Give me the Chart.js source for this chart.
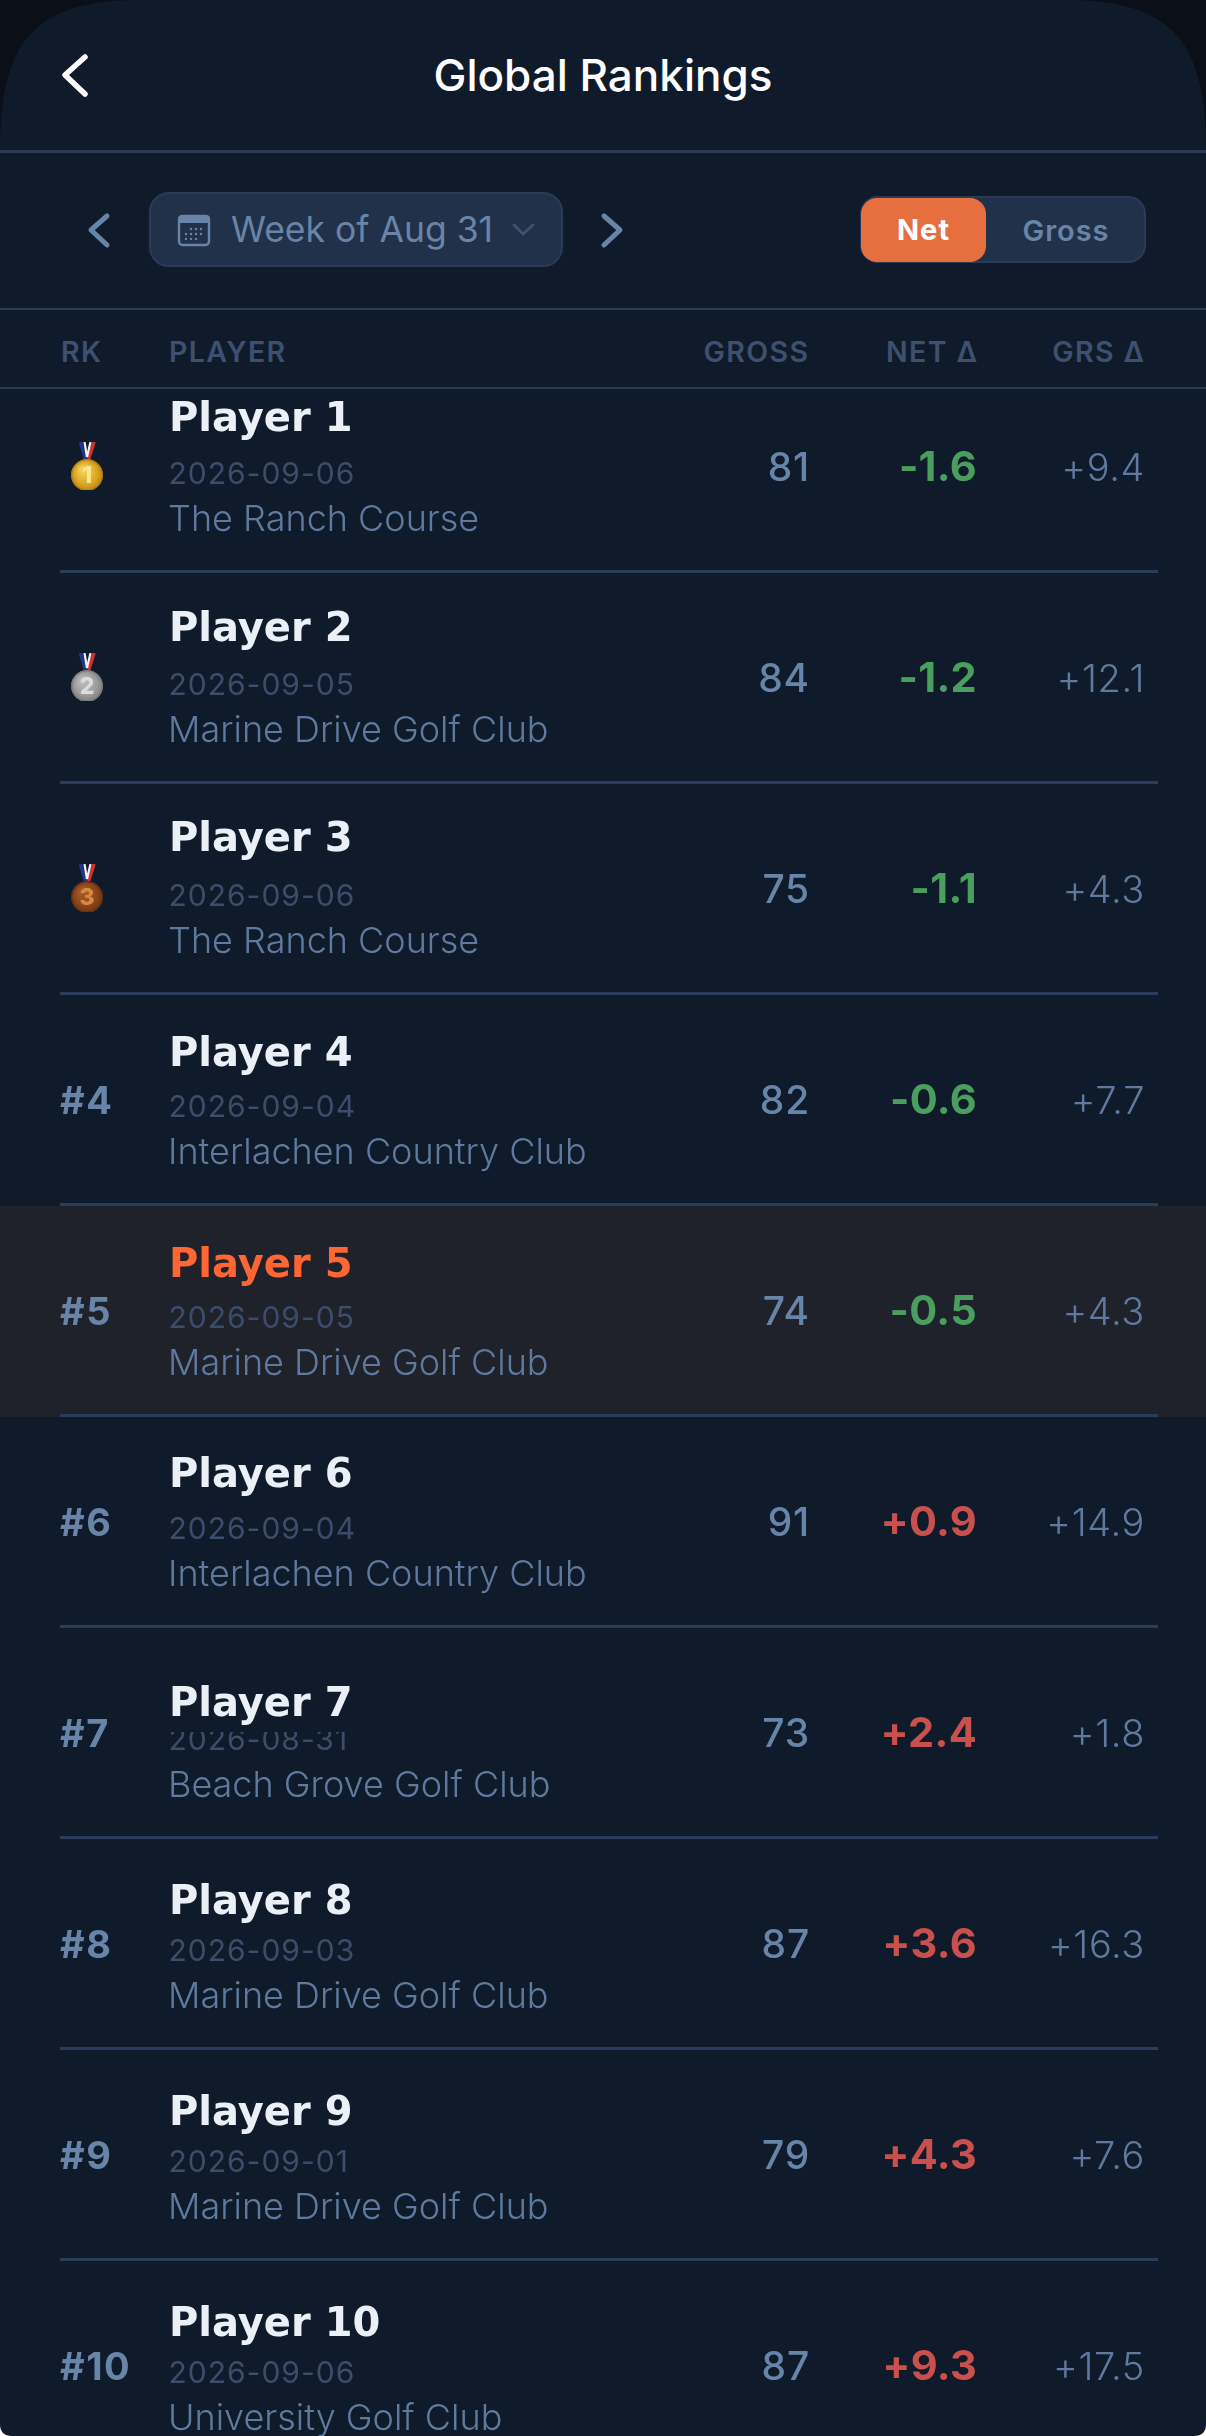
<!DOCTYPE html>
<html>
<head>
<meta charset="utf-8">
<title>Global Rankings</title>
<script src="https://cdn.jsdelivr.net/npm/chart.js@4"></script>
<style>
  html, body { margin: 0; padding: 0; }
  body { width: 1206px; height: 2436px; overflow: hidden; background: linear-gradient(#0a0f18 50%, #fff 50%); font-family: Inter, sans-serif; }
  #screen { position: absolute; left: 0; top: 0; width: 1206px; height: 2436px; background: #0f1b2a;
    clip-path: path('M0 150 C0 40 35 0 140 0 L1066 0 C1171 0 1206 40 1206 150 L1206 2424 Q1206 2436 1194 2436 L12 2436 Q0 2436 0 2424 Z'); }
  .abs { position: absolute; white-space: nowrap; }
  .rule { position: absolute; left: 0; width: 1206px; background: #2a3a57; }
  #title { left: 0; width: 1206px; text-align: center; top: 50px; font-size: 44px; line-height: 50px; font-weight: 500; color: #fff; }
  #week { left: 149px; top: 192px; width: 414px; height: 75px; box-sizing: border-box; border: 2px solid #2b3b57; border-radius: 20px; background: #22314a; }
  #weekText { left: 231px; top: 208px; font-size: 35.5px; line-height: 44px; color: #6884a8; }
  #toggle { left: 860px; top: 196px; width: 286px; height: 67px; box-sizing: border-box; border: 2px solid #2b3b57; border-radius: 18px; background: #22314a; }
  #net { left: 861px; top: 198px; width: 125px; height: 64px; border-radius: 16px; background: #e76f3f; color: #fff; font-weight: 700; font-size: 29px; letter-spacing: 1px; line-height: 64px; text-align: center; }
  #gross { left: 987px; top: 198px; width: 158px; height: 64px; color: #6884a8; font-weight: 600; font-size: 29px; letter-spacing: 1px; line-height: 66px; text-align: center; }
  .colhead { top: 334px; font-size: 28.5px; line-height: 36px; font-weight: 600; color: #3e5070; letter-spacing: 1.4px; }
  #plot { position: absolute; left: 0; top: 390px; width: 1206px; height: 2046px; }
</style>
</head>
<body>
<div id="screen">
  <svg class="abs" style="left:0;top:0" width="1206" height="300" fill="none" stroke-linecap="round" stroke-linejoin="round">
    <path d="M85 57 L65 75 L85 94" stroke="#fff" stroke-width="5.5"/>
  </svg>
  <div class="abs" id="title">Global Rankings</div>
  <div class="rule" style="top:150px;height:3px"></div>
  <div class="abs" id="week"></div>
  <svg class="abs" style="left:0;top:0;z-index:2" width="1206" height="300" fill="none" stroke-linecap="round" stroke-linejoin="round">
    <path d="M107 216 L91 230 L107 245" stroke="#6884a8" stroke-width="5"/>
    <path d="M604 216 L620 230 L604 245" stroke="#6884a8" stroke-width="5"/>
    <rect x="179" y="216" width="30" height="29" rx="3.5" stroke="#6884a8" stroke-width="2.4"/>
    <path d="M178 219 Q178 215 182 215 L206 215 Q210 215 210 219 L210 223 L178 223 Z" fill="#6884a8"/>
    <g fill="#6884a8">
      <circle cx="191" cy="229" r="1.2"/><circle cx="196" cy="229" r="1.2"/><circle cx="201" cy="229" r="1.2"/>
      <circle cx="186" cy="234" r="1.2"/><circle cx="191" cy="234" r="1.2"/><circle cx="196" cy="234" r="1.2"/><circle cx="201" cy="234" r="1.2"/>
      <circle cx="186" cy="239" r="1.2"/><circle cx="191" cy="239" r="1.2"/><circle cx="196" cy="239" r="1.2"/>
    </g>
    <path d="M514 225 L523 234 L533 225" stroke="#3e5070" stroke-width="3"/>
  </svg>
  <div class="abs" id="weekText" style="z-index:2">Week of Aug 31</div>
  <div class="abs" id="toggle"></div>
  <div class="abs" id="net">Net</div>
  <div class="abs" id="gross">Gross</div>
  <div class="rule" style="top:308px;height:2px"></div>
  <div id="colheads"></div>
  <div class="rule" style="top:387px;height:2px"></div>
  <canvas id="plot" width="1206" height="2046"></canvas>
</div>
<script>
// ── Global Rankings table, every row placed by the chart's scales ──
const ranks    = [1, 2, 3, 4, 5, 6, 7, 8, 9, 10];
const players  = ['Player 1', 'Player 2', 'Player 3', 'Player 4', 'Player 5', 'Player 6', 'Player 7', 'Player 8', 'Player 9', 'Player 10'];
const dates    = ['2026-09-06', '2026-09-05', '2026-09-06', '2026-09-04', '2026-09-05', '2026-09-04', '2026-08-31', '2026-09-03', '2026-09-01', '2026-09-06'];
const courses  = ['The Ranch Course', 'Marine Drive Golf Club', 'The Ranch Course', 'Interlachen Country Club', 'Marine Drive Golf Club', 'Interlachen Country Club', 'Beach Grove Golf Club', 'Marine Drive Golf Club', 'Marine Drive Golf Club', 'University Golf Club'];
const gross    = [81, 84, 75, 82, 74, 91, 73, 87, 79, 87];
const netDelta = [-1.6, -1.2, -1.1, -0.6, -0.5, 0.9, 2.4, 3.6, 4.3, 9.3];
const grsDelta = [9.4, 12.1, 4.3, 7.7, 4.3, 14.9, 1.8, 16.3, 7.6, 17.5];
const columnTitles = ['RK', 'PLAYER', 'GROSS', 'NET Δ', 'GRS Δ'];
const highlightRank = 5;

// layout, in page pixels
const ROW_H = 211, FIRST_ROW_Y = 76, PLOT_H = 2046;
const COL = { rank: 60, player: 170, gross: 810, net: 977, grs: 1145, medal: 87 };
const HEAD_X = [{ left: 61 }, { left: 169 }, { right: 396.5 }, { right: 227.5 }, { right: 60.5 }];
// the names sit at slightly different heights from row to row
const NAME_DY = [-35, -36, -37, -33, -33, -34, -16, -29, -29, -29];

const columnHost = document.getElementById('colheads');
columnTitles.forEach((t, i) => {
  const d = document.createElement('div');
  d.className = 'abs colhead';
  d.textContent = t;
  if (HEAD_X[i].left !== undefined) d.style.left = HEAD_X[i].left + 'px';
  else d.style.right = HEAD_X[i].right + 'px';
  columnHost.appendChild(d);
});

function signed(v) { return (v > 0 ? '+' : '') + v.toFixed(1); }

function medal(stops, rim, numColor, num) {
  const c = document.createElement('canvas');
  c.width = 40; c.height = 48;
  const g = c.getContext('2d');
  const cx = 20, cy = 33, r = 16;
  // ribbon
  g.lineWidth = 3.6;
  [['#23348c', 13.5, 18.5], ['#d5322c', 27, 21.5]].forEach(([col, x0, x1]) => {
    g.strokeStyle = col;
    g.beginPath(); g.moveTo(x0, 0); g.lineTo(x1, 17); g.stroke();
  });
  g.lineWidth = 2.2;
  g.strokeStyle = '#f2f2f2';
  g.beginPath(); g.moveTo(17.5, 0); g.lineTo(20, 15); g.stroke();
  g.beginPath(); g.moveTo(23.5, 0); g.lineTo(20, 15); g.stroke();
  // disc
  const grad = g.createRadialGradient(cx - 4, cy - 6, 2, cx, cy, r);
  grad.addColorStop(0, stops[0]);
  grad.addColorStop(0.7, stops[1]);
  grad.addColorStop(1, stops[2]);
  g.fillStyle = grad;
  g.beginPath(); g.arc(cx, cy, r, 0, Math.PI * 2); g.fill();
  g.strokeStyle = rim; g.lineWidth = 1;
  g.beginPath(); g.arc(cx, cy, r - 0.5, 0, Math.PI * 2); g.stroke();
  g.fillStyle = numColor;
  g.font = '800 23px Inter';
  g.textAlign = 'center';
  g.textBaseline = 'middle';
  g.fillText(num, cx, cy + 1);
  return c;
}
const medals = [
  medal(['#f6d25a', '#d9a521', '#b98412'], '#a97a14', '#f9e694', '1'),
  medal(['#bdbdbd', '#9a9a9a', '#7c7c7c'], '#777', '#dcdcdc', '2'),
  medal(['#a85d28', '#87441a', '#6b3312'], '#5e2c10', '#d98a3c', '3'),
];

const rowRules = ranks.map(r => r + 0.5).slice(0, 9);

const rowText = {
  id: 'rowText',
  beforeDraw(chart) {
    const { ctx, scales: { y } } = chart;
    ctx.save();
    ctx.fillStyle = '#1f212b';
    const top = y.getPixelForValue(highlightRank - 0.5) + 1.5;
    const bot = y.getPixelForValue(highlightRank + 0.5) + 1.5;
    ctx.fillRect(0, top, chart.width, bot - top);
    ctx.restore();
  },
  afterDatasetsDraw(chart) {
    const { ctx } = chart;
    const metaOf = label => chart.getDatasetMeta(chart.data.datasets.findIndex(d => d.label === label)).data;
    const put = (txt, x, y, font, color, align, spacing) => {
      ctx.font = font;
      ctx.fillStyle = color;
      ctx.textAlign = align || 'left';
      ctx.letterSpacing = spacing || '0px';
      ctx.fillText(txt, x, y);
    };
    ctx.save();
    ctx.textBaseline = 'alphabetic';

    metaOf('rank').forEach((pt, i) => {
      if (ranks[i] > 3) put('#' + ranks[i], pt.x, pt.y + 15, '700 38px Inter', '#6884a8', 'left', '1.5px');
    });
    metaOf('player').forEach((pt, i) => {
      const nameY = pt.y + NAME_DY[i];
      // date is partly hidden when the name box rides over it
      ctx.save();
      ctx.beginPath();
      ctx.rect(0, nameY + 16, chart.width, ROW_H);
      ctx.clip();
      put(dates[i], pt.x - 1.5, pt.y + 18, '400 30px Inter', '#3c4d6c', 'left', '1px');
      ctx.restore();
      put(courses[i], pt.x - 2, pt.y + 65, '300 36px Inter', '#5f7a9e');
      put(players[i], pt.x - 1, nameY, '700 40px "DejaVu Sans"', ranks[i] === highlightRank ? '#ff6633' : '#ebf0f7');
    });
    metaOf('gross').forEach((pt, i) => put(String(gross[i]), pt.x, pt.y + 15, '500 39px Inter', '#6884a8', 'right', '0.8px'));
    metaOf('net').forEach((pt, i) => {
      put(signed(netDelta[i]), pt.x, pt.y + 15, '700 41.5px Inter', netDelta[i] < 0 ? '#4a9e5e' : '#c9504d', 'right', '0.3px');
    });
    metaOf('grs').forEach((pt, i) => put(signed(grsDelta[i]), pt.x, pt.y + 15, '300 38px Inter', '#5f7a9e', 'right', '0.6px'));
    ctx.restore();
  },
};

const column = (label, x) => ({
  label,
  data: ranks.map(r => ({ x, y: r })),
  pointRadius: 0,
  showLine: false,
  clip: false,
});

new Chart(document.getElementById('plot').getContext('2d'), {
  type: 'scatter',
  data: {
    datasets: [
      column('rank', COL.rank),
      column('player', COL.player),
      column('gross', COL.gross),
      column('net', COL.net),
      column('grs', COL.grs),
      {
        label: 'medals',
        data: ranks.slice(0, 3).map(r => ({ x: COL.medal, y: r })),
        pointStyle: medals,
        pointRadius: 20,
        showLine: false,
        clip: false,
      },
    ],
  },
  options: {
    responsive: false,
    animation: false,
    devicePixelRatio: 1,
    layout: { autoPadding: false, padding: { left: 60, right: 48, top: 0, bottom: 0 } },
    plugins: { legend: { display: false }, tooltip: { enabled: false } },
    events: [],
    scales: {
      x: { type: 'linear', display: false, min: 60, max: 1158 },
      y: {
        type: 'linear',
        reverse: true,
        min: 1 - FIRST_ROW_Y / ROW_H,
        max: 1 + (PLOT_H - FIRST_ROW_Y) / ROW_H,
        afterFit: s => { s.width = 0; },
        afterBuildTicks: s => { s.ticks = rowRules.map(value => ({ value })); },
        ticks: { display: false },
        border: { display: false },
        grid: { color: '#2b3c5a', lineWidth: 3, drawTicks: false },
      },
    },
  },
  plugins: [rowText],
});
</script>
</body>
</html>
